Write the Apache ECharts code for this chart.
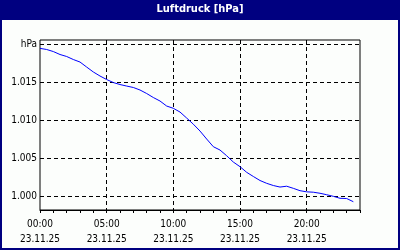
<!DOCTYPE html>
<html><head><meta charset="utf-8">
<script src="https://cdn.jsdelivr.net/npm/echarts@6/dist/echarts.min.js"></script>
<style>html,body{margin:0;padding:0;background:#fcfefc}#c{width:400px;height:250px}</style>
</head><body><div id="c"></div>
<script>
var times = ['00:00','00:30','01:00','01:30','02:00','02:30','03:00','03:30','04:00','04:30',
  '05:00','05:30','06:00','06:30','07:00','07:30','08:00','08:30','09:00','09:30',
  '10:00','10:30','11:00','11:30','12:00','12:30','13:00','13:30','14:00','14:30',
  '15:00','15:30','16:00','16:30','17:00','17:30','18:00','18:30','19:00','19:30',
  '20:00','20:30','21:00','21:30','22:00','22:30','23:00','23:30','24:00'];
var dateLabel = '23.11.25';
var pressure = [1019.43,1019.28,1019.01,1018.62,1018.36,1017.96,1017.63,1016.97,1016.32,1015.79,
  1015.33,1014.93,1014.67,1014.47,1014.28,1013.95,1013.49,1012.96,1012.50,1011.84,
  1011.54,1011.05,1010.26,1009.45,1008.55,1007.50,1006.49,1006.05,1005.30,1004.47,
  1003.86,1003.12,1002.57,1002.04,1001.67,1001.38,1001.18,1001.29,1001.01,1000.70,
  1000.55,1000.50,1000.36,1000.17,999.96,999.70,999.67,999.25,null];
var yTicks = [1000, 1005, 1010, 1015, 1020];
var yUnit = 'hPa';
var titleText = 'Luftdruck [hPa]';

var FONT = 'DejaVu Sans Condensed, Liberation Sans, sans-serif';
var chart = echarts.init(document.getElementById('c'), null, {renderer: 'canvas'});
chart.setOption({
  backgroundColor: '#fcfefc',
  animation: false,
  graphic: [
    {type: 'rect', shape: {x: 0, y: 0, width: 400, height: 20}, style: {fill: '#000080'}, silent: true},
    {type: 'rect', shape: {x: 1, y: 1, width: 398, height: 248}, style: {fill: null, stroke: '#000080', lineWidth: 2}, silent: true}
  ],
  title: {
    text: titleText, left: 'center', top: 4, padding: 0,
    textStyle: {color: '#ffffff', fontSize: 11, fontWeight: 'bold', fontFamily: FONT}
  },
  grid: [
    {left: 40, right: 40, top: 40, bottom: 40, show: true, borderColor: '#000', borderWidth: 1, backgroundColor: 'transparent'},
    {left: 40, right: 40, top: 44, height: 152}
  ],
  xAxis: [
    {
      gridIndex: 0, type: 'category', data: times, boundaryGap: false,
      axisLine: {show: true, lineStyle: {color: '#000', width: 1}},
      axisTick: {show: true, length: 3, interval: function (i) { return i % 2 === 0; }, lineStyle: {color: '#000'}},
      axisLabel: {
        show: true, interval: function (i) { return i % 10 === 0; }, margin: 7,
        color: '#000', fontSize: 10, lineHeight: 15, fontFamily: FONT,
        formatter: function (v) { return v + '\n' + dateLabel; }
      },
      splitLine: {show: true, interval: function (i) { return i % 10 === 0 && i > 0; }, lineStyle: {color: '#000', type: [4, 3], width: 1}}
    },
    {gridIndex: 1, type: 'value', min: 0, max: 1, show: false}
  ],
  yAxis: [
    {gridIndex: 0, type: 'value', min: 998.16, max: 1020.53, axisLine: {show: false}, axisTick: {show: false}, axisLabel: {show: false}, splitLine: {show: false}},
    {
      gridIndex: 1, type: 'value', min: yTicks[0], max: yTicks[yTicks.length - 1], interval: 5,
      axisLine: {show: false}, axisTick: {show: false},
      axisLabel: {
        margin: 3, color: '#000', fontSize: 10, fontFamily: FONT,
        formatter: function (v) { return v === yTicks[yTicks.length - 1] ? yUnit : (v / 1000).toFixed(3); }
      },
      splitLine: {show: true, lineStyle: {color: '#000', type: [4, 3], width: 1}}
    }
  ],
  series: [{
    type: 'line', xAxisIndex: 0, yAxisIndex: 0, data: pressure,
    showSymbol: false, symbol: 'none', smooth: false,
    lineStyle: {color: '#0000ff', width: 1}
  }]
});
</script></body></html>
